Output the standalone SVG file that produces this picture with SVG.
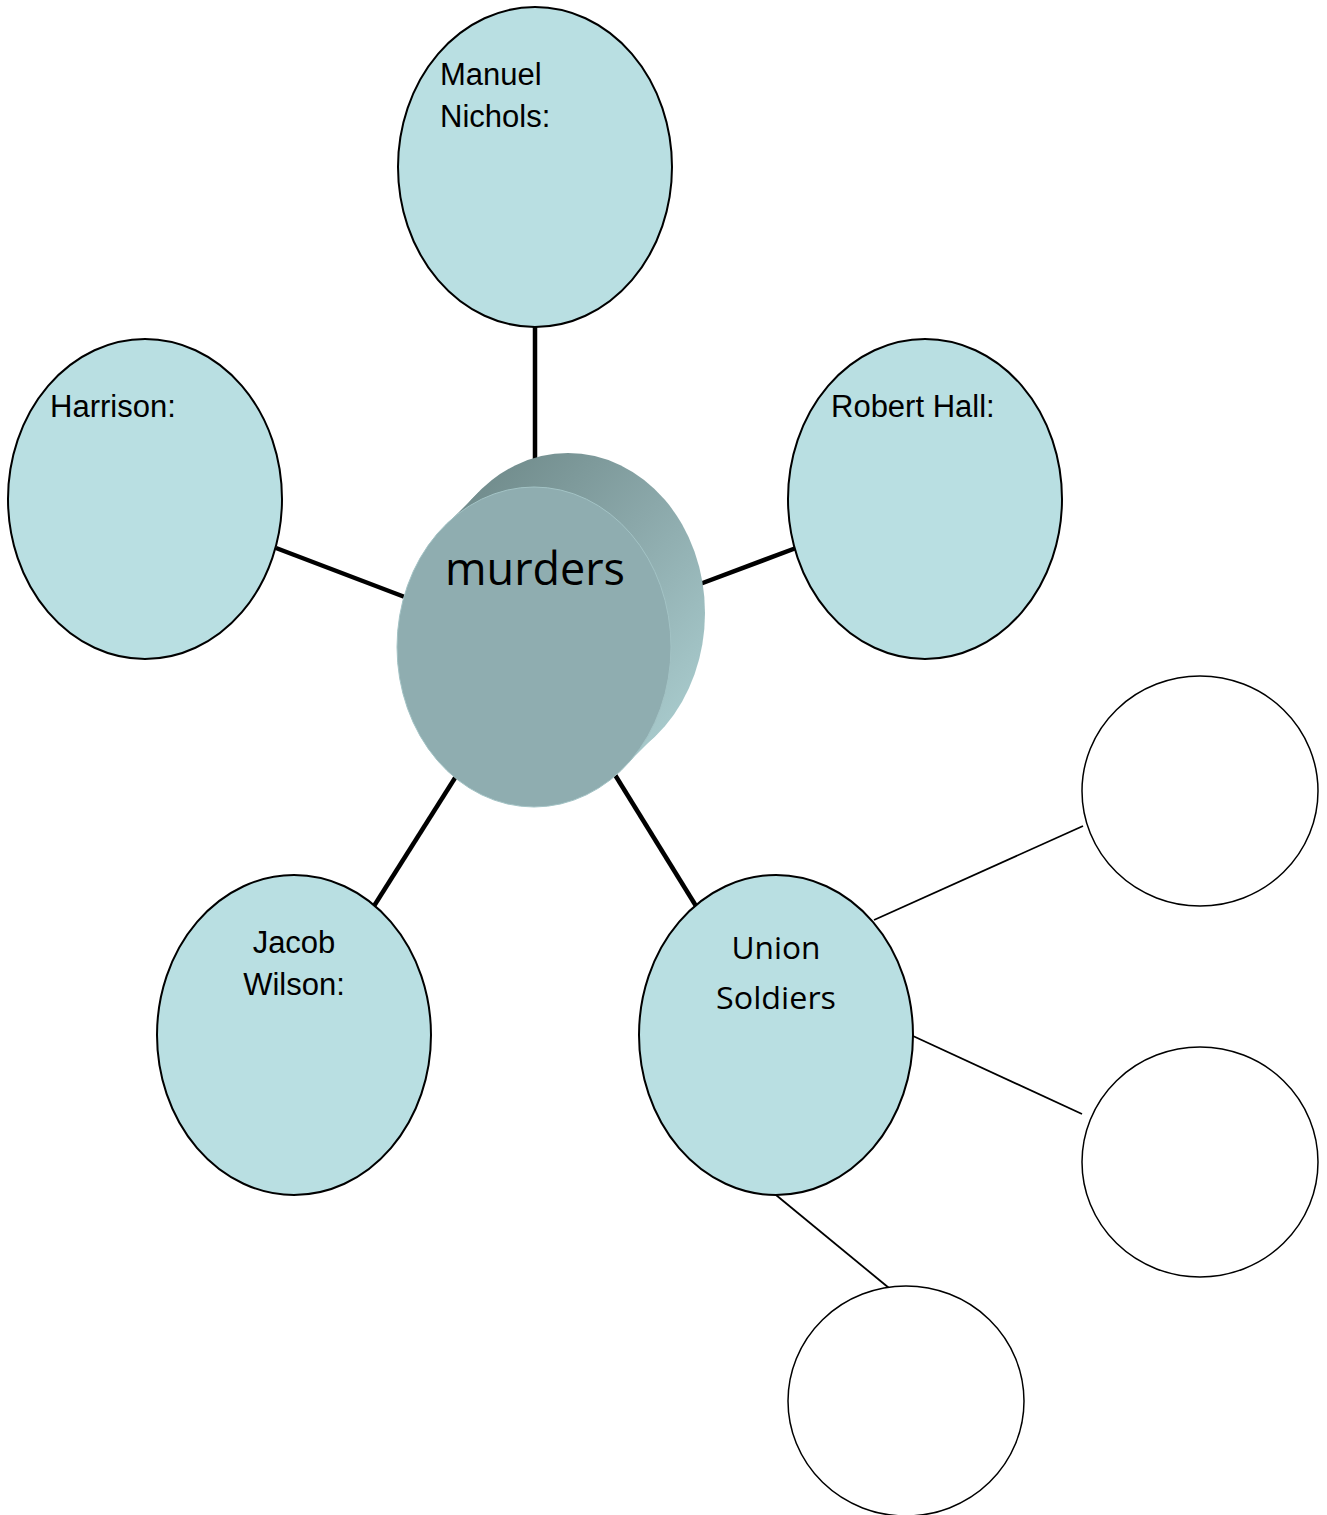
<svg xmlns="http://www.w3.org/2000/svg" width="1327" height="1515" viewBox="0 0 1327 1515">
<style>
.bg{fill:#ffffff}
.node{fill:#b9dfe2;stroke:#000;stroke-width:2}
.empty{fill:#ffffff;stroke:#000;stroke-width:1.5}
.thick{stroke:#000;stroke-width:4.5;fill:none}
.thin{stroke:#000;stroke-width:1.8;fill:none}
.lbl{font-family:"Liberation Sans",Arial,sans-serif;font-size:31px;fill:#000}
.cal{font-family:"Open Sans","Noto Sans",sans-serif;fill:#000}
</style>
<defs>
<linearGradient id="side" gradientUnits="userSpaceOnUse" x1="470" y1="470" x2="700" y2="690">
<stop offset="0" stop-color="#6f8a8a"/>
<stop offset="0.5" stop-color="#8ba8aa"/>
<stop offset="1" stop-color="#a6c8ca"/>
</linearGradient>
</defs>
<rect class="bg" x="0" y="0" width="1327" height="1515"/>
<g id="connectors">
<line class="thick" x1="535" y1="327" x2="535" y2="470"/>
<line class="thick" x1="276" y1="548" x2="410" y2="599"/>
<line class="thick" x1="700" y1="584" x2="796" y2="548"/>
<line class="thick" x1="460" y1="770" x2="374" y2="906"/>
<line class="thick" x1="612" y1="770" x2="696" y2="906"/>
<line class="thin" x1="874" y1="920" x2="1083" y2="826"/>
<line class="thin" x1="913" y1="1036" x2="1082" y2="1114"/>
<line class="thin" x1="776" y1="1195" x2="889" y2="1288"/>
</g>
<g id="node-murders">
<ellipse cx="568" cy="613" rx="137" ry="160" fill="url(#side)"/>
<polygon points="445,526 479,492 657,734 623,768" fill="url(#side)"/>
<ellipse cx="534" cy="647" rx="137" ry="160" fill="#8fadb0" stroke="#a3c3c5" stroke-width="1"/>
<text class="cal" x="535" y="585" font-size="45" text-anchor="middle" textLength="180" lengthAdjust="spacingAndGlyphs">murders</text>
</g>
<g id="node-manuel">
<ellipse class="node" cx="535" cy="167" rx="137" ry="160"/>
<text class="lbl" x="440" y="85">Manuel</text>
<text class="lbl" x="440" y="127">Nichols:</text>
</g>
<g id="node-harrison">
<ellipse class="node" cx="145" cy="499" rx="137" ry="160"/>
<text class="lbl" x="50" y="417">Harrison:</text>
</g>
<g id="node-robert">
<ellipse class="node" cx="925" cy="499" rx="137" ry="160"/>
<text class="lbl" x="831" y="417">Robert Hall:</text>
</g>
<g id="node-jacob">
<ellipse class="node" cx="294" cy="1035" rx="137" ry="160"/>
<text class="lbl" x="294" y="953" text-anchor="middle">Jacob</text>
<text class="lbl" x="294" y="995" text-anchor="middle">Wilson:</text>
</g>
<g id="node-union">
<ellipse class="node" cx="776" cy="1035" rx="137" ry="160"/>
<text class="cal" x="776" y="959" font-size="31" text-anchor="middle" textLength="89" lengthAdjust="spacingAndGlyphs">Union</text>
<text class="cal" x="776" y="1009" font-size="31" text-anchor="middle" textLength="120" lengthAdjust="spacingAndGlyphs">Soldiers</text>
</g>
<g id="node-empty1">
<ellipse class="empty" cx="1200" cy="791" rx="118" ry="115"/>
</g>
<g id="node-empty2">
<ellipse class="empty" cx="1200" cy="1162" rx="118" ry="115"/>
</g>
<g id="node-empty3">
<ellipse class="empty" cx="906" cy="1401" rx="118" ry="115"/>
</g>
</svg>
